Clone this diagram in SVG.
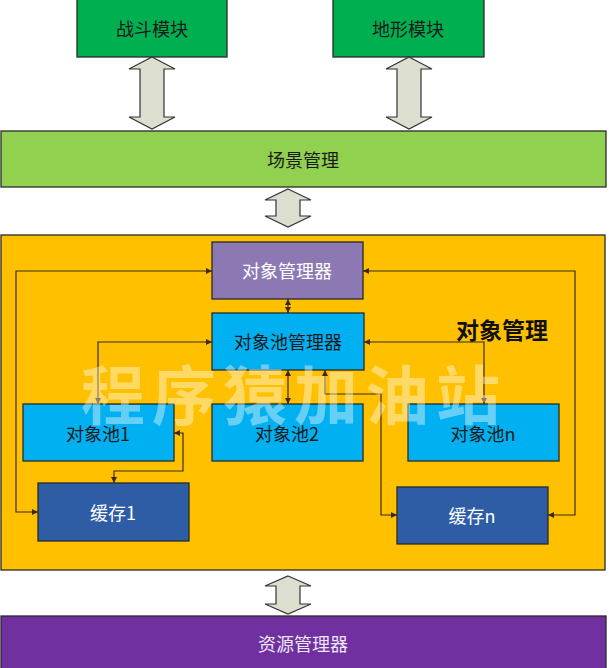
<svg xmlns="http://www.w3.org/2000/svg" width="609" height="668" viewBox="0 0 609 668">
<defs>
<style>
.box{stroke:#2a2a2a;stroke-width:1.3}
.t{font-family:"Microsoft YaHei","Noto Sans CJK SC","Noto Sans",sans-serif;font-size:18px;text-anchor:middle;dominant-baseline:central}
.dark{fill:#1a1a1a}
.light{fill:#ffffff}
.fat{fill:#DCDFCF;stroke:#333;stroke-width:1.2}
.c{fill:none;stroke:#3a2a10;stroke-width:1.2;marker-start:url(#ah);marker-end:url(#ah)}
</style>
<marker id="ah" viewBox="0 0 6 6" refX="6" refY="3" markerWidth="6" markerHeight="6" markerUnits="userSpaceOnUse" orient="auto-start-reverse">
<path d="M0,0 L6,3 L0,6 z" fill="#3a2a10"/>
</marker>
</defs>
<rect width="609" height="668" fill="#ffffff"/>

<g id="battle"><rect class="box" x="77" y="-1" width="150" height="58" fill="#00B050"/><text class="t dark" x="152" y="28">战斗模块</text></g>
<g id="terrain"><rect class="box" x="333" y="-1" width="151" height="58" fill="#00B050"/><text class="t dark" x="408" y="28">地形模块</text></g>
<g id="scene"><rect class="box" x="1" y="131" width="605" height="56" fill="#92D050"/><text class="t dark" x="303" y="159">场景管理</text></g>
<g id="objmgmt"><rect class="box" x="1" y="235" width="604" height="335" fill="#FFC000"/>
<text x="502" y="329" style="font-family:'Noto Sans CJK SC',sans-serif;font-size:23px;font-weight:bold;text-anchor:middle;dominant-baseline:central" fill="#111">对象管理</text></g>
<g id="resource"><rect class="box" x="1" y="616" width="605" height="56" fill="#7030A0"/><text class="t" fill="#EFE6F7" x="303" y="643">资源管理器</text></g>

<g id="fat-arrows">
<polygon class="fat" points="152,57 175,69 164,69 164,117 175,117 152,129 129,117 140,117 140,69 129,69"/>
<polygon class="fat" points="409,57 432,69 421,69 421,117 432,117 409,129 386,117 397,117 397,69 386,69"/>
<polygon class="fat" points="288,189 311,200 300,200 300,216 311,216 288,227 265,216 276,216 276,200 265,200"/>
<polygon class="fat" points="288,576 311,586 300,586 300,604 311,604 288,614 265,604 276,604 276,586 265,586"/>
</g>

<g id="objmgr"><rect class="box" x="212" y="242" width="151" height="57" fill="#8C79B4"/><text class="t light" x="287" y="270">对象管理器</text></g>
<g id="poolmgr"><rect class="box" x="212" y="313" width="152" height="57" fill="#00B0F0"/><text class="t dark" x="288" y="341">对象池管理器</text></g>
<g id="pool1"><rect class="box" x="23" y="404" width="151" height="57" fill="#00B0F0"/><text class="t dark" x="98" y="433">对象池1</text></g>
<g id="pool2"><rect class="box" x="212" y="404" width="151" height="57" fill="#00B0F0"/><text class="t dark" x="287" y="433">对象池2</text></g>
<g id="pooln"><rect class="box" x="408" y="404" width="151" height="57" fill="#00B0F0"/><text class="t dark" x="483" y="433">对象池n</text></g>
<g id="cache1"><rect class="box" x="38" y="483" width="151" height="58" fill="#2E5DA6"/><text class="t light" x="113" y="512">缓存1</text></g>
<g id="cachen"><rect class="box" x="397" y="487" width="151" height="57" fill="#2E5DA6"/><text class="t light" x="472" y="515">缓存n</text></g>

<g id="connectors">
<path class="c" d="M288,299 V313"/>
<path class="c" d="M212,271 H16 V512 H38"/>
<path class="c" d="M363,271 H575 V515 H548"/>
<path class="c" d="M212,342 H98 V404"/>
<path class="c" d="M364,342 H484 V404"/>
<path class="c" d="M288,370 V404"/>
<path class="c" d="M325,370 V394 H381 V515 H397"/>
<path class="c" d="M174,433 H183 V471 H114 V483"/>
</g>

<text x="294" y="391" style="font-family:'Noto Sans CJK SC',sans-serif;font-size:64px;font-weight:bold;letter-spacing:7px;text-anchor:middle;dominant-baseline:central" fill="#ffffff" fill-opacity="0.4">程序猿加油站</text>
</svg>
